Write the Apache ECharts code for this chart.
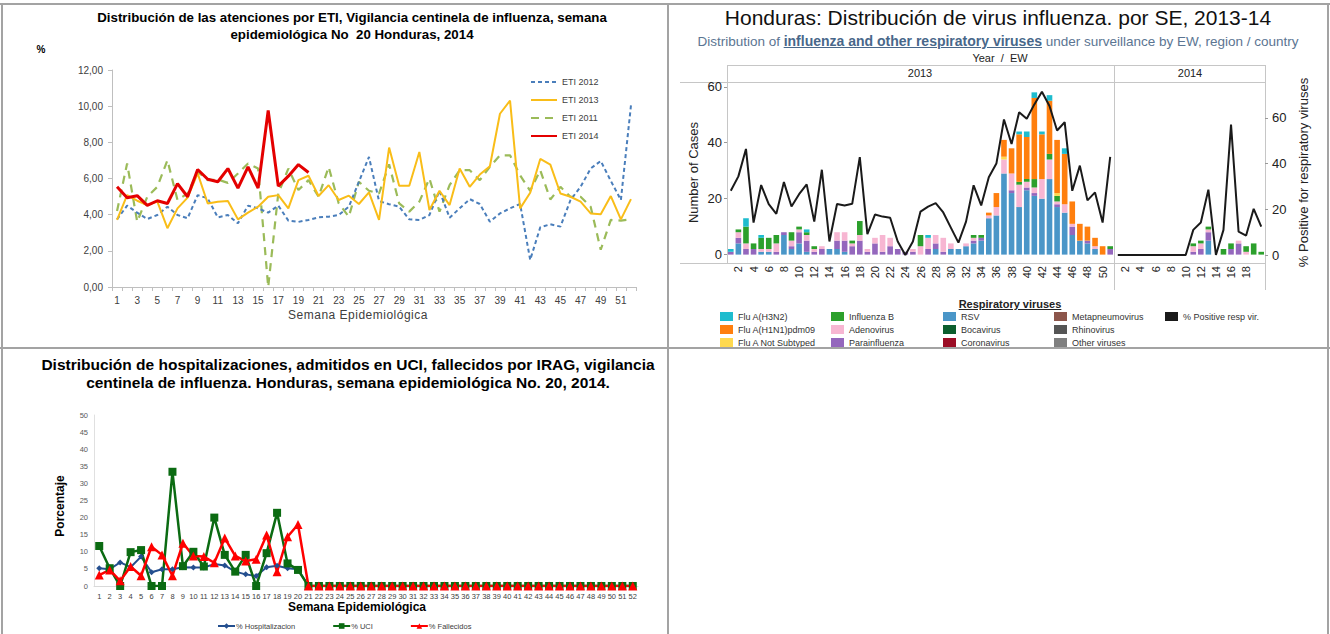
<!DOCTYPE html>
<html><head><meta charset="utf-8">
<script src="https://cdn.jsdelivr.net/npm/echarts@6/dist/echarts.min.js"></script>
<style>
html,body{margin:0;padding:0;background:#fff;width:1330px;height:634px;overflow:hidden;font-family:"Liberation Sans",Arial,sans-serif;}
#chart{position:absolute;left:0;top:0;width:1330px;height:634px;}
.ln{position:absolute;background:#a3a3a3;}
.t{position:absolute;white-space:nowrap;text-align:center;transform:translateX(-50%);color:#000;}
</style></head><body>
<div id="chart"></div>
<div class="ln" style="left:0;top:3px;width:1330px;height:2px"></div>
<div class="ln" style="left:1px;top:3px;width:2px;height:631px"></div>
<div class="ln" style="left:667px;top:3px;width:2px;height:631px"></div>
<div class="ln" style="left:1327px;top:3px;width:2px;height:631px"></div>
<div class="ln" style="left:0;top:347px;width:1330px;height:2px"></div>

<div class="t" style="left:352px;top:9px;font:bold 13.3px/17px 'Liberation Sans',Arial,sans-serif;">Distribución de las atenciones por ETI, Vigilancia centinela de influenza, semana<br>epidemiológica No&nbsp; 20 Honduras, 2014</div>
<div class="t" style="left:41px;top:44px;font:bold 10px/12px 'Liberation Sans',Arial,sans-serif;">%</div>
<div class="t" style="left:358px;top:308px;font:12px/14px 'Liberation Sans',Arial,sans-serif;color:#404040;letter-spacing:0.5px;">Semana Epidemiológica</div>

<div class="t" style="left:998px;top:6px;font:21px/24px 'Liberation Sans',Arial,sans-serif;color:#111;">Honduras: Distribución de virus influenza. por SE, 2013-14</div>
<div class="t" style="left:998px;top:33px;font:13.5px/16px 'Liberation Sans',Arial,sans-serif;color:#5b7592;">Distribution of <b style="color:#48678a;text-decoration:underline;font-size:14px;">influenza and other respiratory viruses</b> under surveillance by EW, region / country</div>
<div class="t" style="left:1000px;top:52px;font:11px/13px 'Liberation Sans',Arial,sans-serif;color:#222;white-space:pre;">Year  /  EW</div>
<div class="t" style="left:920px;top:67px;font:11px/13px 'Liberation Sans',Arial,sans-serif;color:#222;">2013</div>
<div class="t" style="left:1190px;top:67px;font:11px/13px 'Liberation Sans',Arial,sans-serif;color:#222;">2014</div>
<div class="t" style="left:1010px;top:298px;font:bold 11px/13px 'Liberation Sans',Arial,sans-serif;color:#222;text-decoration:underline;">Respiratory viruses</div>

<div class="t" style="left:348px;top:356px;font:bold 15.5px/18px 'Liberation Sans',Arial,sans-serif;">Distribución de hospitalizaciones, admitidos en UCI, fallecidos por IRAG, vigilancia<br>centinela de influenza. Honduras, semana epidemiológica No. 20, 2014.</div>
<div class="t" style="left:357px;top:600px;font:bold 12px/14px 'Liberation Sans',Arial,sans-serif;">Semana Epidemiológica</div>
<div class="t" style="left:60px;top:499px;font:bold 12px/14px 'Liberation Sans',Arial,sans-serif;transform:translateX(-50%) rotate(-90deg);">Porcentaje</div>

<script>
// ---------- Chart 1: ETI ----------
const weeks52 = ['1','2','3','4','5','6','7','8','9','10','11','12','13','14','15','16','17','18','19','20','21','22','23','24','25','26','27','28','29','30','31','32','33','34','35','36','37','38','39','40','41','42','43','44','45','46','47','48','49','50','51','52'];
const eti2012 = [3.74,4.50,4.11,3.76,3.98,4.44,3.98,3.80,5.08,4.90,3.85,3.98,3.52,4.50,4.35,4.11,4.50,3.67,3.60,3.71,3.85,3.89,3.98,4.44,5.82,7.19,4.75,4.58,4.44,3.74,3.71,3.98,5.32,3.83,4.35,4.86,4.59,3.61,4.07,4.35,4.59,1.50,3.30,3.47,3.34,4.81,5.54,6.55,6.97,5.87,4.81,10.04];
const eti2013 = [3.71,5.08,4.77,4.53,4.72,3.25,4.35,4.94,6.28,4.62,4.72,4.75,3.74,4.11,4.44,4.99,5.08,4.35,5.91,6.15,5.03,5.63,4.81,5.05,4.59,5.23,3.71,7.71,5.60,5.60,7.47,4.26,5.32,4.53,6.55,5.54,6.22,6.68,9.58,10.31,4.35,5.21,7.08,6.77,5.17,4.99,4.72,4.07,4.02,5.03,3.74,4.86];
const eti2011 = [4.20,6.83,3.61,4.99,5.54,7.01,4.81,5.17,6.37,5.91,5.94,5.76,6.28,6.83,6.55,0.00,5.17,6.55,5.36,5.91,4.99,6.64,4.62,3.89,5.82,5.32,5.17,6.78,4.62,4.17,4.72,6.00,4.17,5.63,6.46,6.46,5.91,6.64,7.28,7.28,6.18,5.32,6.46,4.84,5.54,4.99,4.99,4.44,2.06,3.71,3.67,3.74];
const eti2014 = [5.54,4.94,5.05,4.51,4.77,4.62,5.72,4.99,6.50,5.96,5.82,6.55,5.47,6.64,5.47,9.76,5.58,6.13,6.77,6.33];
const etiTicks = [0,2,4,6,8,10,12];

// ---------- Chart 2: respiratory viruses (2013 weeks 1-51, 2014 weeks 1-20) ----------
const weeks2013 = weeks52.slice(0,51);
const weeks2014 = weeks52.slice(0,20);
const rsv13    = [0,4,0,0,1,1,0,7,2,4, 1,0,0,2,2,1,0,0,0,0, 0,0,0,0,0,0,0,2,0,2, 2,3,4,5,13,14,29,22,17,23, 21,20,27,17,15,7,5,4,2,0,0];
const para13   = [1,2,2,2,0,0,1,1,1,4, 4,1,2,0,3,4,3,5,1,4, 1,3,2,1,1,0,2,2,1,0, 0,0,1,1,0,0,0,1,0,1, 1,0,0,1,0,3,0,1,0,0,2];
const adeno13  = [0,2,2,0,1,1,3,0,2,1, 2,1,1,0,3,3,1,2,1,2, 6,3,0,0,1,3,4,3,5,2, 0,1,1,0,1,3,5,6,8,2, 2,7,7,1,3,1,0,0,1,0,0];
const flub13   = [0,1,6,2,4,4,3,0,3,1, 1,1,0,0,0,0,1,5,0,0, 0,0,0,0,0,4,0,0,0,0, 0,0,1,1,0,0,0,0,1,1, 3,0,2,2,0,0,0,0,0,0,1];
const notsub13 = [0,0,0,0,0,0,0,0,0,0, 0,0,0,0,0,0,0,0,0,0, 0,0,0,0,0,0,0,0,0,0, 0,0,0,0,0,0,1,0,0,0, 0,0,0,1,0,0,0,0,0,0,0];
const h1n113   = [0,0,0,0,0,0,0,0,0,0, 0,0,0,0,0,0,0,0,0,0, 0,0,0,0,0,0,0,0,0,0, 0,0,0,0,1,5,6,9,17,15, 29,16,19,19,18,8,6,5,3,3,0];
const h3n213   = [1,0,3,0,1,0,0,0,0,0, 1,0,0,0,0,0,0,0,0,0, 0,0,0,0,0,0,1,0,0,0, 0,0,0,0,0,0,0,0,1,2, 2,1,2,0,2,0,0,0,0,0,0];
const rsv14    = [0,0,0,0,0,0,0,0,0,0, 0,0,5,0,0,0,0,0,0,0];
const para14   = [0,0,0,0,0,0,0,0,0,0, 1,2,3,0,0,2,4,0,0,0];
const adeno14  = [0,0,0,0,0,0,0,0,0,0, 2,2,1,0,0,0,1,1,0,0];
const flub14   = [0,0,0,0,0,0,0,0,0,0, 1,1,1,0,2,2,0,2,4,1];
const pos13    = [28.1,34.4,46.4,14.2,30.6,22.3,18.0,31.9,21.2,26.6, 30.9,14.6,37.3,5.9,22.3,21.7,22.4,42.8,9.1,17.7, 16.8,16.3,5.9,0,5.9,19.0,21.2,22.7,18.6,12.0, 5.4,14.6,30.5,21.7,34.0,40.0,59.3,48.6,62.5,59.6, 65.9,71.4,65.2,54.5,58.1,28.1,39.1,23.9,27.4,14.2, 42.9];
const pos14    = [0,0,0,0,0,0,0,0,0,0, 11.0,14.2,28.6,0,11.0,57.1,10.2,8.5,20.2,12.4];
const casesTicks = [0,20,40,60];
const posTicks = [0,20,40,60];

// ---------- Chart 3: IRAG ----------
const hosp = [5.2,4.9,6.9,5.5,8.6,4.0,4.9,4.9,5.5,5.4,5.4,6.4,6.0,4.2,3.4,2.9,5.5,5.9,5.2,4.9,0,0,0,0,0,0,0,0,0,0,0,0,0,0,0,0,0,0,0,0,0,0,0,0,0,0,0,0,0,0,0,0];
const uci  = [11.7,5.2,0,9.9,10.5,0,0,33.4,5.8,10.0,5.7,20.0,9.1,4.2,9.1,0,9.6,21.4,6.6,4.7,0,0,0,0,0,0,0,0,0,0,0,0,0,0,0,0,0,0,0,0,0,0,0,0,0,0,0,0,0,0,0,0];
const fall = [3.2,4.7,1.5,5.7,3.0,11.5,9.1,3.0,12.5,8.8,8.6,6.8,14.0,8.8,7.3,7.8,14.9,4.2,14.4,18.0,0,0,0,0,0,0,0,0,0,0,0,0,0,0,0,0,0,0,0,0,0,0,0,0,0,0,0,0,0,0,0,0];

// ---------- build ----------
const F = "'Liberation Sans', Arial, sans-serif";
const chart = echarts.init(document.getElementById('chart'), null, {renderer:'svg'});

const virusColors = {
  'Flu A(H3N2)':'#1ebcce','Flu A(H1N1)pdm09':'#ff7f0e','Flu A Not Subtyped':'#ffd94f',
  'Influenza B':'#2ca02c','Adenovirus':'#f7b6d2','Parainfluenza':'#9467bd',
  'RSV':'#4a96c8','Bocavirus':'#0b5e2e','Coronavirus':'#9b0d25',
  'Metapneumovirus':'#8c564b','Rhinovirus':'#555555','Other viruses':'#7f7f7f'
};
const stackOrder = [
  ['Bocavirus', [], []],
  ['RSV', rsv13, rsv14],
  ['Parainfluenza', para13, para14],
  ['Adenovirus', adeno13, adeno14],
  ['Influenza B', flub13, flub14],
  ['Flu A Not Subtyped', notsub13, []],
  ['Flu A(H1N1)pdm09', h1n113, []],
  ['Flu A(H3N2)', h3n213, []],
  ['Coronavirus', [], []],
  ['Metapneumovirus', [], []],
  ['Rhinovirus', [], []],
  ['Other viruses', [], []]
];

const series = [];
// chart 1
series.push({name:'ETI 2011', type:'line', xAxisIndex:0, yAxisIndex:0, data:eti2011, symbol:'none', color:'#9bbb59', lineStyle:{width:2.2, type:[8,6], color:'#9bbb59'}});
series.push({name:'ETI 2012', type:'line', xAxisIndex:0, yAxisIndex:0, data:eti2012, symbol:'none', color:'#4a7ebb', lineStyle:{width:2, type:[4,3], color:'#4a7ebb'}});
series.push({name:'ETI 2013', type:'line', xAxisIndex:0, yAxisIndex:0, data:eti2013, symbol:'none', color:'#f9bd18', lineStyle:{width:2, color:'#f9bd18'}});
series.push({name:'ETI 2014', type:'line', xAxisIndex:0, yAxisIndex:0, data:eti2014, symbol:'none', color:'#e40000', lineStyle:{width:3, color:'#e40000'}});
// chart 2 bars
stackOrder.forEach(([name, d13, d14]) => {
  const c = virusColors[name];
  series.push({name, type:'bar', xAxisIndex:1, yAxisIndex:1, stack:'s13', data:d13, barWidth:'74%', color:c, itemStyle:{color:c}});
  series.push({name, type:'bar', xAxisIndex:2, yAxisIndex:3, stack:'s14', data:d14, barWidth:'74%', color:c, itemStyle:{color:c}});
});
series.push({name:'% Positive resp vir.', type:'line', xAxisIndex:1, yAxisIndex:2, data:pos13, symbol:'none', color:'#1a1a1a', lineStyle:{width:2, color:'#1a1a1a'}, z:5});
series.push({name:'% Positive resp vir.', type:'line', xAxisIndex:2, yAxisIndex:4, data:pos14, symbol:'none', color:'#1a1a1a', lineStyle:{width:2, color:'#1a1a1a'}, z:5});
// chart 3
series.push({name:'% Hospitalizacion', type:'line', xAxisIndex:3, yAxisIndex:5, data:hosp, symbol:'diamond', symbolSize:6, color:'#244f8f', lineStyle:{width:2, color:'#244f8f'}, itemStyle:{color:'#244f8f'}});
series.push({name:'% UCI', type:'line', xAxisIndex:3, yAxisIndex:5, data:uci, symbol:'rect', symbolSize:8, color:'#0b6b12', lineStyle:{width:2.5, color:'#0b6b12'}, itemStyle:{color:'#0b6b12'}});
series.push({name:'% Fallecidos', type:'line', xAxisIndex:3, yAxisIndex:5, data:fall, symbol:'triangle', symbolSize:9, color:'#ff0000', lineStyle:{width:2.5, color:'#ff0000'}, itemStyle:{color:'#ff0000'}});

const oddIdx = (i) => i % 2 === 1;
const legendCol = (left, names) => ({
  orient:'vertical', left, top:311, padding:0, itemWidth:13, itemHeight:9, itemGap:2, selectedMode:false,
  textStyle:{fontSize:9, lineHeight:11, color:'#333', fontFamily:F},
  data: names.map(n => ({name:n, icon:'rect'}))
});

const option = {
  animation:false,
  backgroundColor:'#fff',
  textStyle:{fontFamily:F},
  grid:[
    {left:112, top:70, width:524, height:217},
    {left:727, top:82, width:387, height:181},
    {left:1114, top:82, width:151, height:181},
    {left:94, top:415, width:544, height:171}
  ],
  xAxis:[
    {type:'category', gridIndex:0, data:weeks52, boundaryGap:true,
     axisLine:{lineStyle:{color:'#bfbfbf'}}, axisTick:{show:true, interval:0, length:4, lineStyle:{color:'#bfbfbf'}},
     axisLabel:{interval:1, fontSize:10, color:'#404040', margin:8}},
    {type:'category', gridIndex:1, data:weeks2013, axisLine:{show:false}, axisTick:{show:false},
     axisLabel:{rotate:90, interval:oddIdx, fontSize:11, color:'#222', margin:3}},
    {type:'category', gridIndex:2, data:weeks2014, axisLine:{show:false}, axisTick:{show:false},
     axisLabel:{rotate:90, interval:(i)=> i%2===1 && i<19, fontSize:11, color:'#222', margin:3}},
    {type:'category', gridIndex:3, data:weeks52, boundaryGap:true,
     axisLine:{lineStyle:{color:'#d9d9d9'}}, axisTick:{show:false},
     axisLabel:{interval:0, fontSize:7.5, color:'#404040', margin:6}}
  ],
  yAxis:[
    {type:'value', gridIndex:0, min:etiTicks[0], max:etiTicks[etiTicks.length-1], interval:2,
     axisLine:{show:true, lineStyle:{color:'#bfbfbf'}}, axisTick:{show:true, length:4, lineStyle:{color:'#bfbfbf'}},
     splitLine:{show:false}, axisLabel:{fontSize:10, color:'#404040', margin:9, formatter:(v)=>v.toFixed(2).replace('.',',')}},
    {type:'value', gridIndex:1, position:'left', min:-3, max:61.7,
     axisLine:{show:false}, axisTick:{show:true, customValues:casesTicks, length:3, lineStyle:{color:'#999'}},
     splitLine:{show:false},
     axisLabel:{customValues:casesTicks, fontSize:13, color:'#222', margin:5, formatter:(v)=> (v%20===0 && v>=0 && v<=60) ? String(v) : ''},
     name:'Number of Cases', nameLocation:'middle', nameRotate:90, nameGap:27, nameTextStyle:{fontSize:13, color:'#222'}},
    {type:'value', gridIndex:1, position:'right', min:-3.5, max:75.7, show:false},
    {type:'value', gridIndex:2, position:'left', min:-3, max:61.7, show:false},
    {type:'value', gridIndex:2, position:'right', min:-3.5, max:75.7,
     axisLine:{show:false}, axisTick:{show:true, customValues:posTicks, length:3, lineStyle:{color:'#999'}},
     splitLine:{show:false},
     axisLabel:{customValues:posTicks, fontSize:13, color:'#222', margin:7, formatter:(v)=> (v%20===0 && v>=0 && v<=60) ? String(v) : ''},
     name:'% Positive for respiratory viruses', nameLocation:'middle', nameRotate:90, nameGap:32, nameTextStyle:{fontSize:13, color:'#222'}},
    {type:'value', gridIndex:3, min:0, max:50, interval:5,
     axisLine:{show:true, lineStyle:{color:'#e0e0e0'}}, axisTick:{show:false}, splitLine:{show:false},
     axisLabel:{fontSize:7.5, color:'#595959', margin:6}}
  ],
  legend:[
    {orient:'vertical', left:530, top:77, padding:0, itemWidth:26, itemHeight:10, itemGap:8, selectedMode:false,
     itemStyle:{opacity:0},
     textStyle:{fontSize:9, lineHeight:10, color:'#404040', fontFamily:F},
     data:['ETI 2012','ETI 2013','ETI 2011','ETI 2014']},
    legendCol(720, ['Flu A(H3N2)','Flu A(H1N1)pdm09','Flu A Not Subtyped']),
    legendCol(831, ['Influenza B','Adenovirus','Parainfluenza']),
    legendCol(943, ['RSV','Bocavirus','Coronavirus']),
    legendCol(1054, ['Metapneumovirus','Rhinovirus','Other viruses']),
    legendCol(1165, ['% Positive resp vir.']),
    {orient:'horizontal', left:217, top:622, padding:0, itemWidth:17, itemHeight:7, itemGap:37, selectedMode:false,
     textStyle:{fontSize:7.5, color:'#404040', fontFamily:F, padding:[0,0,0,-4]},
     data:['% Hospitalizacion','% UCI','% Fallecidos']}
  ],
  graphic:[
    {type:'line', shape:{x1:727, y1:65.5, x2:1265, y2:65.5}, style:{stroke:'#c6c6c6', lineWidth:1}},
    {type:'line', shape:{x1:680, y1:82.5, x2:1265, y2:82.5}, style:{stroke:'#c6c6c6', lineWidth:1}},
    {type:'line', shape:{x1:680, y1:263.5, x2:1265, y2:263.5}, style:{stroke:'#c6c6c6', lineWidth:1}},
    {type:'line', shape:{x1:727.5, y1:65, x2:727.5, y2:263}, style:{stroke:'#c6c6c6', lineWidth:1}},
    {type:'line', shape:{x1:1114.5, y1:65, x2:1114.5, y2:290}, style:{stroke:'#c6c6c6', lineWidth:1}},
    {type:'line', shape:{x1:1265.5, y1:65, x2:1265.5, y2:290}, style:{stroke:'#c6c6c6', lineWidth:1}}
  ],
  series
};
chart.setOption(option);
</script>
</body></html>
